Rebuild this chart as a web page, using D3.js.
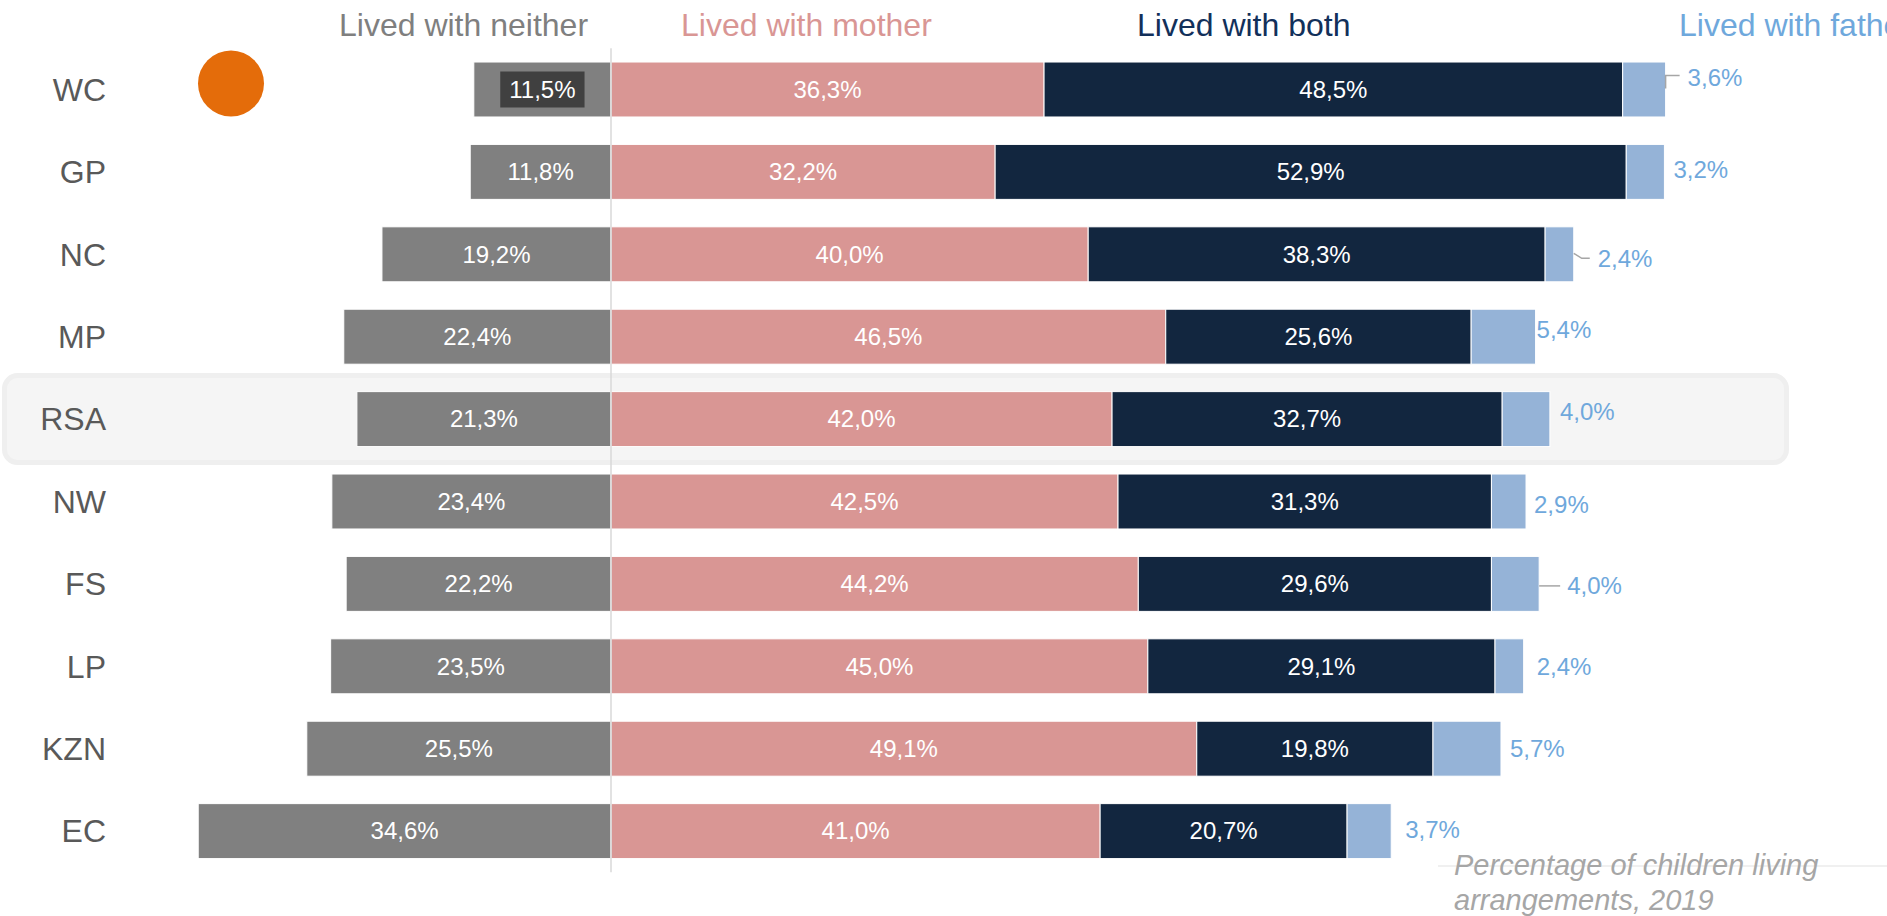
<!DOCTYPE html>
<html>
<head>
<meta charset="utf-8">
<script src="https://cdn.jsdelivr.net/npm/d3@7"></script>
<style>
  html, body { margin: 0; padding: 0; background: #ffffff; }
  svg { display: block; font-family: "Liberation Sans", Arial, sans-serif; }
</style>
</head>
<body>
<svg id="chart" width="1887" height="916"></svg>
<script>
// ---- data ----
const categories = ["WC", "GP", "NC", "MP", "RSA", "NW", "FS", "LP", "KZN", "EC"];
const neither = [11.5, 11.8, 19.2, 22.4, 21.3, 23.4, 22.2, 23.5, 25.5, 34.6];
const mother  = [36.3, 32.2, 40.0, 46.5, 42.0, 42.5, 44.2, 45.0, 49.1, 41.0];
const both    = [48.5, 52.9, 38.3, 25.6, 32.7, 31.3, 29.6, 29.1, 19.8, 20.7];
const father  = [3.6, 3.2, 2.4, 5.4, 4.0, 2.9, 4.0, 2.4, 5.7, 3.7];
const seriesNames = ["Lived with neither", "Lived with mother", "Lived with both", "Lived with father"];
const highlightedCategory = "RSA";
const markedCategory = "WC";
const footnoteLines = ["Percentage of children living", "arrangements, 2019"];

// ---- layout (not data) ----
const fatherLabelNudge = [
  {dx: 22, dy: -12, leader: "up"},
  {dx: 9,  dy: -2},
  {dx: 24, dy: 4, leader: "down"},
  {dx: 1,  dy: -7},
  {dx: 10, dy: -7},
  {dx: 8,  dy: 3},
  {dx: 28, dy: 2, leader: "flat"},
  {dx: 13, dy: 0},
  {dx: 9,  dy: 0},
  {dx: 14, dy: -1}
];

const colors = {
  neither: "#808080", mother: "#d99694", both: "#12263f", father: "#95b3d7",
  hNeither: "#7f7f7f", hMother: "#d99694", hBoth: "#12305a", hFather: "#6fa8dc"
};

const svg = d3.select("#chart");
const zeroX = 611, pxPerPct = 11.93;
const x = d3.scaleLinear().domain([-40, 100]).range([zeroX - 40 * pxPerPct, zeroX + 100 * pxPerPct]);
const y = d3.scaleBand().domain(categories).range([48.3, 872.3]).paddingInner(0.333).paddingOuter(0.1665);
const bw = y.bandwidth();
const fmt = v => d3.format(".1f")(v).replace(".", ",") + "%";

// highlight box for RSA
const hy = y(highlightedCategory) + bw / 2;
svg.append("rect")
  .attr("x", 4.5).attr("y", hy - 43.5)
  .attr("width", 1782).attr("height", 87)
  .attr("rx", 13).attr("ry", 13)
  .attr("fill", "#f5f5f5").attr("stroke", "#efefef").attr("stroke-width", 5);

// rows
const rows = categories.map((c, i) => ({
  cat: c, i,
  segs: [
    {key: "neither", x0: -neither[i], x1: 0, v: neither[i]},
    {key: "mother", x0: 0, x1: mother[i], v: mother[i]},
    {key: "both", x0: mother[i], x1: mother[i] + both[i], v: both[i]},
    {key: "father", x0: mother[i] + both[i], x1: mother[i] + both[i] + father[i], v: father[i]}
  ]
}));

const g = svg.selectAll("g.row").data(rows).join("g").attr("class", "row")
  .attr("transform", d => `translate(0,${y(d.cat)})`);

g.selectAll("rect.seg").data(d => d.segs).join("rect").attr("class", "seg")
  .attr("x", s => x(s.x0)).attr("y", 0)
  .attr("width", s => x(s.x1) - x(s.x0)).attr("height", bw)
  .attr("fill", s => colors[s.key])
  .attr("stroke", "#ffffff").attr("stroke-width", 1);

// zero line
svg.append("line")
  .attr("x1", x(0)).attr("x2", x(0))
  .attr("y1", y.range()[0]).attr("y2", y.range()[1])
  .attr("stroke", "#d9d9d9").attr("stroke-width", 1.5);

// in-bar labels
g.each(function(d) {
  const row = d3.select(this);
  d.segs.slice(0, 3).forEach(s => {
    const cx = (x(s.x0) + x(s.x1)) / 2;
    const t = row.append("text")
      .attr("x", cx).attr("y", bw / 2).attr("dy", "0.35em")
      .attr("text-anchor", "middle").attr("fill", "#ffffff")
      .attr("font-size", 24).text(fmt(s.v));
    if (d.cat === markedCategory && s.key === "neither") {
      const bb = t.node().getBBox();
      row.insert("rect", () => t.node())
        .attr("x", bb.x - 9).attr("y", bw / 2 - 18)
        .attr("width", bb.width + 18).attr("height", 36)
        .attr("fill", "#404040");
    }
  });
  // father label
  const s = d.segs[3];
  const nd = fatherLabelNudge[d.i];
  const ex = x(s.x1), cy = bw / 2;
  if (nd.leader) {
    let path;
    if (nd.leader === "up") path = `M${ex},${cy - 1}L${ex},${cy + nd.dy - 2}L${ex + 14},${cy + nd.dy - 2}`;
    else if (nd.leader === "down") path = `M${ex},${cy - 1}L${ex + 8},${cy + nd.dy}L${ex + 16},${cy + nd.dy}`;
    else path = `M${ex},${cy + nd.dy}L${ex + 21},${cy + nd.dy}`;
    row.append("path").attr("d", path).attr("fill", "none")
      .attr("stroke", "#a6a6a6").attr("stroke-width", 1.5);
  }
  row.append("text")
    .attr("x", ex + nd.dx).attr("y", cy + nd.dy).attr("dy", "0.35em")
    .attr("fill", colors.hFather).attr("font-size", 24).text(fmt(s.v));
});

// category labels
svg.selectAll("text.cat").data(categories).join("text").attr("class", "cat")
  .attr("x", 106).attr("y", c => y(c) + bw / 2).attr("dy", "0.35em")
  .attr("text-anchor", "end").attr("fill", "#595959").attr("font-size", 32)
  .text(c => c);

// orange marker
svg.append("circle")
  .attr("cx", 231).attr("cy", y(markedCategory) + bw / 2 - 6).attr("r", 33)
  .attr("fill", "#e46c0a");

// headers
const headerX = [339, 681, 1137, 1679];
const headerColors = [colors.hNeither, colors.hMother, colors.hBoth, colors.hFather];
svg.selectAll("text.hdr").data(seriesNames).join("text").attr("class", "hdr")
  .attr("x", (d, i) => headerX[i]).attr("y", 36)
  .attr("fill", (d, i) => headerColors[i]).attr("font-size", 32)
  .text(d => d);

// footnote
svg.append("line").attr("x1", 1438).attr("x2", 1887).attr("y1", 866).attr("y2", 866)
  .attr("stroke", "#ebebeb").attr("stroke-width", 1.5);
svg.selectAll("text.foot").data(footnoteLines).join("text").attr("class", "foot")
  .attr("x", 1454).attr("y", (d, i) => 875 + i * 35)
  .attr("fill", "#a6a6a6").attr("font-size", 29).attr("font-style", "italic")
  .text(d => d);
</script>
</body>
</html>
